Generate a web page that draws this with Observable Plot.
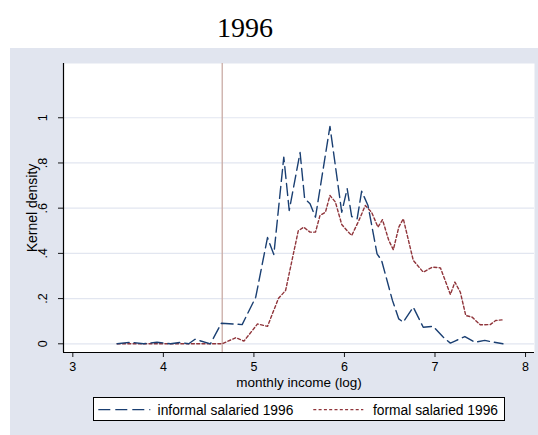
<!DOCTYPE html>
<html><head><meta charset="utf-8">
<script src="https://cdn.jsdelivr.net/npm/d3@7"></script>
<script src="https://cdn.jsdelivr.net/npm/@observablehq/plot@0.6"></script>
<style>
body{margin:0;background:#fff;width:538px;height:435px;position:relative;overflow:hidden;font-family:"Liberation Sans",Arial,sans-serif;}
#title{position:absolute;left:0;top:13.6px;width:490px;text-align:center;font-family:"Liberation Serif","Times New Roman",serif;font-size:28px;line-height:28px;color:#000}
#panel{position:absolute;left:10px;top:48px;width:528px;height:387px;background:#e1e5ef}
#panel svg{display:block}
#legend{position:absolute;left:82.7px;top:348.7px;width:410px;height:22px;background:#fff;border:1px solid #000}
</style>
</head><body>
<div id="title">1996</div>
<div id="panel"><div id="chart"></div><div id="legend"></div></div>
<script>
// ---- data ----
const informalX = [3.49,3.64,3.78,3.93,4.08,4.19,4.28,4.35,4.52,4.64,4.87,5.02,5.15,5.22,5.33,5.39,5.51,5.56,5.62,5.68,5.84,5.97,6.03,6.08,6.14,6.19,6.26,6.36,6.41,6.53,6.60,6.65,6.76,6.87,6.98,7.09,7.17,7.22,7.33,7.44,7.55,7.65,7.75];
const informalY = [0,0.007,0,0.007,0,0.006,0,0.02,0,0.091,0.085,0.206,0.47,0.395,0.826,0.59,0.846,0.643,0.62,0.56,0.962,0.582,0.686,0.563,0.553,0.675,0.612,0.398,0.369,0.192,0.11,0.096,0.162,0.073,0.077,0.03,0.003,0.012,0.032,0.007,0.015,0.007,0];
const formalX = [3.49,4.0,4.65,4.80,4.89,5.04,5.15,5.27,5.35,5.49,5.55,5.62,5.68,5.73,5.79,5.84,5.90,5.97,6.03,6.08,6.16,6.23,6.30,6.37,6.42,6.49,6.54,6.60,6.65,6.76,6.87,6.97,7.06,7.17,7.22,7.28,7.34,7.41,7.50,7.61,7.67,7.74];
const formalY = [0,0,0,0.027,0.012,0.088,0.077,0.2,0.236,0.50,0.516,0.494,0.494,0.568,0.582,0.656,0.627,0.528,0.50,0.479,0.546,0.612,0.582,0.516,0.549,0.457,0.416,0.516,0.553,0.369,0.317,0.339,0.336,0.218,0.273,0.228,0.125,0.118,0.084,0.085,0.103,0.106];
const seriesNames = ["informal salaried 1996","formal salaried 1996"];
const xTicks = [3,4,5,6,7,8];
const yTicks = [0,0.2,0.4,0.6,0.8,1];
const referenceLine = [4.65];
const xLabel = "monthly income (log)";
const yLabel = "Kernel density";

// ---- styles ----
const blue = "#1a3f72", red = "#90353b", gridColor = "#e2e6f0", vlineColor = "#c9aba6";
const blueDash = "12,5", redDash = "3,2.3";
const xDomain = [2.897, 8.099], yDomain = [-0.0385, 1.24];
const font = "'Liberation Sans', Arial, sans-serif";

const informal = informalX.map((x,i)=>({x, y: informalY[i]}));
const formal = formalX.map((x,i)=>({x, y: formalY[i]}));
const fmt = d => d === 0 ? "0" : d === 1 ? "1" : String(d).replace(/^0/, "");

const chart = Plot.plot({
  width: 528, height: 342,
  marginLeft: 53, marginRight: 4, marginTop: 15, marginBottom: 38,
  style: {background: "transparent", fontFamily: font, fontSize: "13px", color: "#000"},
  x: {domain: xDomain, label: null, axis: null},
  y: {domain: yDomain, label: null, axis: null},
  marks: [
    Plot.frame({fill: "white", stroke: null}),
    Plot.gridY(yTicks, {stroke: gridColor, strokeOpacity: 1, strokeWidth: 1.2}),
    Plot.ruleX(referenceLine, {stroke: vlineColor, strokeWidth: 1.3}),
    Plot.line(formal, {x: "x", y: "y", stroke: red, strokeWidth: 1.4, strokeDasharray: redDash}),
    Plot.line(informal, {x: "x", y: "y", stroke: blue, strokeWidth: 1.4, strokeDasharray: blueDash}),
    Plot.ruleX([xDomain[0]], {stroke: "#000", strokeWidth: 1.2}),
    Plot.ruleY([yDomain[0]], {stroke: "#000", strokeWidth: 1.2}),
    Plot.axisX(xTicks, {tickSize: 5, tickPadding: 5, fontSize: 12.5, label: null, stroke: "#000", strokeOpacity: 0.9}),
    Plot.axisY(yTicks, {tickSize: 5, tickFormat: () => "", label: null, stroke: "#000", strokeOpacity: 0.9}),
    Plot.text(yTicks, {y: d => d, text: fmt, frameAnchor: "left", dx: -20.5, rotate: -90, textAnchor: "middle", lineAnchor: "middle", fontSize: 12.5, fill: "#000"}),
    Plot.text([yLabel], {text: d => d, frameAnchor: "left", dx: -31, rotate: -90, textAnchor: "middle", lineAnchor: "middle", fontSize: 14, fill: "#000"}),
    Plot.text([xLabel], {text: d => d, frameAnchor: "bottom", dy: 29.7, lineAnchor: "middle", fontSize: 13.5, fill: "#000"})
  ]
});
document.getElementById("chart").appendChild(chart);

// ---- legend ----
const legend = d3.select("#legend").append("svg").attr("width", 410).attr("height", 22).style("display","block")
  .style("font-family", font).style("font-size", "13.8px");
const items = [
  {name: seriesNames[0], color: blue, dash: blueDash, x0: 4.3, x1: 56.3, tx: 63.6},
  {name: seriesNames[1], color: red, dash: redDash, x0: 219.3, x1: 269.3, tx: 279}
];
for (const it of items) {
  legend.append("line").attr("x1", it.x0).attr("x2", it.x1).attr("y1", 11.6).attr("y2", 11.6)
    .attr("stroke", it.color).attr("stroke-width", 1.4).attr("stroke-dasharray", it.dash);
  legend.append("text").attr("x", it.tx).attr("y", 16.5).attr("fill", "#000").text(it.name);
}
</script>
</body></html>
